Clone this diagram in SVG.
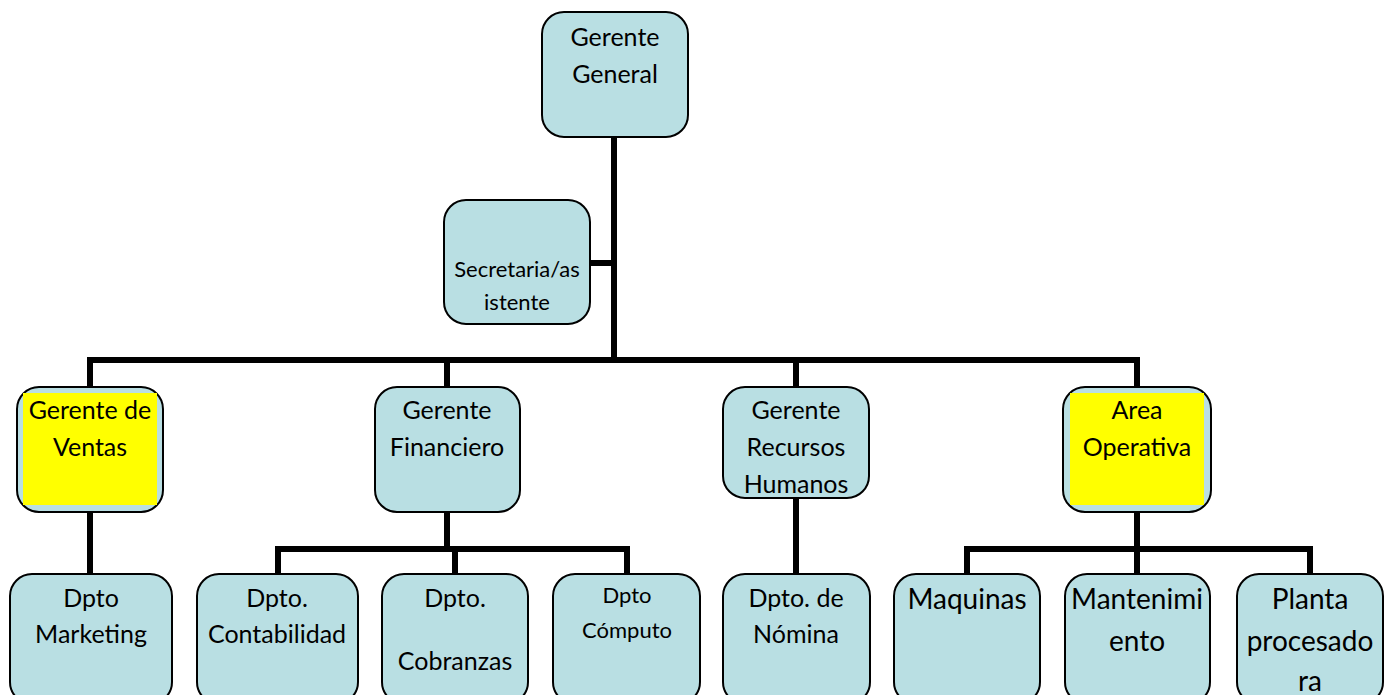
<svg xmlns="http://www.w3.org/2000/svg" width="1390" height="695" viewBox="0 0 1390 695">
<style>
.box{fill:#b9dfe3;stroke:#000;stroke-width:2}
.hl{fill:#ffff00}
.ln{stroke:#000;stroke-width:6;fill:none;stroke-linecap:square}
text{font-family:Lato,"Open Sans",sans-serif;font-size:25px;fill:#000;text-anchor:middle}
.s{font-size:22px}
.c{font-size:22px}
.l{font-size:28px}
</style>
<rect width="1390" height="695" fill="#fff"/>
<g id="connectors">
<path class="ln" d="M614 137V360M590 263H614M90 360H1137M90 360V387M447 360V387M796 360V387M1137 360V387"/>
<path class="ln" d="M90 512V574M447 512V549M278 549H627M278 549V574M455 549V574M627 549V574M796 498V574"/>
<path class="ln" d="M1137 512V549M967 549H1310M967 549V574M1137 549V574M1310 549V574"/>
</g>
<g id="gerente-general"><rect class="box" x="542" y="12" width="146" height="125" rx="22"/><text x="615" y="46">Gerente</text><text x="615" y="83">General</text></g>
<g id="secretaria"><rect class="box" x="444" y="200" width="146" height="124" rx="22"/><text class="s" x="517" y="277">Secretaria/as</text><text class="s" x="517" y="310">istente</text></g>
<g id="gerente-ventas"><rect class="box" x="17" y="387" width="146" height="125" rx="22"/><rect class="hl" x="23" y="393" width="134" height="112"/><text x="90" y="419">Gerente de</text><text x="90" y="456">Ventas</text></g>
<g id="gerente-financiero"><rect class="box" x="375" y="387" width="145" height="125" rx="22"/><text x="447" y="419">Gerente</text><text x="447" y="456">Financiero</text></g>
<g id="gerente-rrhh"><rect class="box" x="723" y="387" width="146" height="111" rx="22"/><text x="796" y="419">Gerente</text><text x="796" y="456">Recursos</text><text x="796" y="493">Humanos</text></g>
<g id="area-operativa"><rect class="box" x="1063" y="387" width="148" height="125" rx="22"/><rect class="hl" x="1070" y="393" width="134" height="112"/><text x="1137" y="419">Area</text><text x="1137" y="456">Operativa</text></g>
<g id="dpto-marketing"><rect class="box" x="10" y="574" width="162" height="130" rx="22"/><text x="91" y="607">Dpto</text><text x="91" y="643">Marketing</text></g>
<g id="dpto-contabilidad"><rect class="box" x="197" y="574" width="161" height="130" rx="22"/><text x="277" y="607">Dpto.</text><text x="277" y="643">Contabilidad</text></g>
<g id="dpto-cobranzas"><rect class="box" x="382" y="574" width="146" height="130" rx="22"/><text x="455" y="607">Dpto.</text><text x="455" y="670">Cobranzas</text></g>
<g id="dpto-computo"><rect class="box" x="553" y="574" width="147" height="130" rx="22"/><text class="c" x="627" y="603">Dpto</text><text class="c" x="627" y="638">Cómputo</text></g>
<g id="dpto-nomina"><rect class="box" x="723" y="574" width="147" height="130" rx="22"/><text x="796" y="607">Dpto. de</text><text x="796" y="643">Nómina</text></g>
<g id="maquinas"><rect class="box" x="894" y="574" width="146" height="130" rx="22"/><text class="l" x="967" y="609">Maquinas</text></g>
<g id="mantenimiento"><rect class="box" x="1065" y="574" width="145" height="130" rx="22"/><text class="l" x="1137" y="609">Mantenimi</text><text class="l" x="1137" y="651">ento</text></g>
<g id="planta"><rect class="box" x="1237" y="574" width="146" height="130" rx="22"/><text class="l" x="1310" y="609">Planta</text><text class="l" x="1310" y="651">procesado</text><text class="l" x="1310" y="691">ra</text></g>
</svg>
